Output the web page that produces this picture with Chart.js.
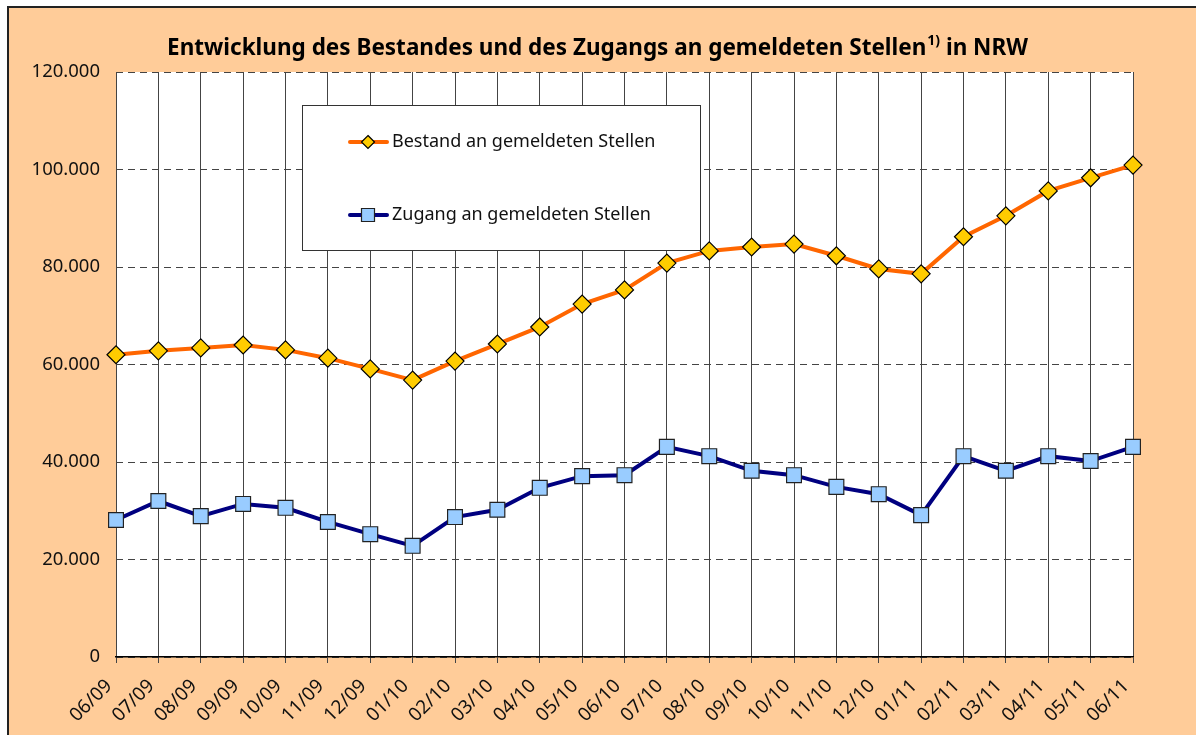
<!DOCTYPE html>
<html>
<head>
<meta charset="utf-8">
<script src="https://cdn.jsdelivr.net/npm/chart.js@4.4.1/dist/chart.umd.min.js"></script>
<style>
  html, body { margin: 0; padding: 0; background: #fff; }
  #wrap { position: absolute; left: 0; top: 0; width: 1196px; height: 735px; }
</style>
</head>
<body>
<div id="wrap"><canvas id="cChart" width="1196" height="735"></canvas></div>
<script>
// monate (Berichtsmonat)
var monate = ['06/09', '07/09', '08/09', '09/09', '10/09', '11/09', '12/09', '01/10', '02/10',
  '03/10', '04/10', '05/10', '06/10', '07/10', '08/10', '09/10', '10/10', '11/10', '12/10',
  '01/11', '02/11', '03/11', '04/11', '05/11', '06/11'];

var bestand = [62000, 62800, 63400, 64000, 63000, 61300, 59100, 56800, 60700,
  64200, 67700, 72400, 75300, 80800, 83300, 84100, 84700, 82300, 79600,
  78600, 86200, 90500, 95600, 98300, 100900];

var zugang = [28100, 32000, 28900, 31400, 30600, 27700, 25200, 22800, 28700,
  30200, 34700, 37100, 37300, 43100, 41200, 38200, 37300, 34900, 33400,
  29100, 41200, 38200, 41200, 40200, 43100];

var yTicks = [0, 20000, 40000, 60000, 80000, 100000, 120000];

var titelText = 'Entwicklung des Bestandes und des Zugangs an gemeldeten Stellen';
var titelSup = '1)';
var titelRest = ' in NRW';
var legendeLabels = ['Bestand an gemeldeten Stellen', 'Zugang an gemeldeten Stellen'];

var FONT = '"Noto Sans", "Open Sans", sans-serif';

function fmt(v) {
  return String(v).replace(/\B(?=(\d{3})+(?!\d))/g, '.');
}

var hintergrund = {
  id: 'hintergrund',
  beforeDraw: function(chart) {
    var ctx = chart.ctx;
    ctx.save();
    ctx.fillStyle = '#fff';
    ctx.fillRect(0, 0, chart.width, chart.height);
    ctx.fillStyle = '#FFCC99';
    ctx.fillRect(8, 7, 1200, 740);
    ctx.strokeStyle = '#222';
    ctx.lineWidth = 2;
    ctx.strokeRect(8, 7, 1200, 740);
    // plot area white
    var a = chart.chartArea;
    ctx.fillStyle = '#fff';
    ctx.fillRect(a.left, a.top, a.right - a.left, a.bottom - a.top);

    // title with superscript
    ctx.fillStyle = '#000';
    ctx.textBaseline = 'alphabetic';
    ctx.font = 'bold 22.5px ' + FONT;
    var w1 = ctx.measureText(titelText).width;
    var w3 = ctx.measureText(titelRest).width;
    ctx.font = 'bold 14px ' + FONT;
    var w2 = ctx.measureText(titelSup).width;
    var x = 597 - (w1 + w2 + w3) / 2;
    ctx.font = 'bold 22.5px ' + FONT;
    ctx.fillText(titelText, x, 55);
    ctx.font = 'bold 14px ' + FONT;
    ctx.fillText(titelSup, x + w1 + 1, 45);
    ctx.font = 'bold 22.5px ' + FONT;
    ctx.fillText(titelRest, x + w1 + w2 + 1, 55);
    ctx.restore();
  }
};

var legende = {
  id: 'legende',
  afterDraw: function(chart) {
    var ctx = chart.ctx;
    ctx.save();
    ctx.fillStyle = '#fff';
    ctx.fillRect(302, 105, 398, 145);
    ctx.strokeStyle = '#333';
    ctx.lineWidth = 1;
    ctx.strokeRect(302.5, 105.5, 398, 145);
    var ys = [142, 215];
    chart.data.datasets.forEach(function(ds, i) {
      var y = ys[i];
      ctx.strokeStyle = ds.borderColor;
      ctx.lineWidth = 4;
      ctx.lineCap = 'round';
      ctx.beginPath();
      ctx.moveTo(350, y);
      ctx.lineTo(387, y);
      ctx.stroke();
      ctx.lineCap = 'butt';
      ctx.fillStyle = ds.pointBackgroundColor;
      ctx.strokeStyle = ds.pointBorderColor;
      ctx.lineWidth = 1.2;
      ctx.beginPath();
      if (i === 0) {
        ctx.moveTo(368, y - 6.5); ctx.lineTo(374.5, y); ctx.lineTo(368, y + 6.5); ctx.lineTo(361.5, y);
        ctx.closePath();
      } else {
        ctx.rect(361.5, y - 6.5, 13, 13);
      }
      ctx.fill();
      ctx.stroke();
      ctx.fillStyle = '#111';
      ctx.font = '18px ' + FONT;
      ctx.textBaseline = 'middle';
      ctx.fillText(legendeLabels[i], 392, y);
    });
    ctx.restore();
  }
};

new Chart(document.getElementById('cChart'), {
  type: 'line',
  data: {
    labels: monate,
    datasets: [{
      label: legendeLabels[0],
      data: bestand,
      borderColor: '#FF6600',
      borderWidth: 4,
      pointStyle: 'rectRot',
      pointRadius: 9,
      pointHoverRadius: 9,
      pointBackgroundColor: '#FFCC00',
      pointBorderColor: '#000',
      pointBorderWidth: 1.2,
      tension: 0,
      fill: false
    }, {
      label: legendeLabels[1],
      data: zugang,
      borderColor: '#000080',
      borderWidth: 4,
      pointStyle: 'rect',
      pointRadius: 10.5,
      pointHoverRadius: 10.5,
      pointBackgroundColor: '#99CCFF',
      pointBorderColor: '#222',
      pointBorderWidth: 1.2,
      tension: 0,
      fill: false
    }]
  },
  options: {
    responsive: false,
    animation: false,
    events: [],
    layout: { padding: { top: 72, right: 63, bottom: 0, left: 0 } },
    plugins: {
      legend: { display: false },
      title: { display: false },
      tooltip: { enabled: false }
    },
    scales: {
      x: {
        type: 'category',
        offset: false,
        afterFit: function(s) { s.height = 78; },
        grid: { color: '#444', lineWidth: 1, tickLength: 6, drawOnChartArea: true },
        border: { display: true, color: '#000', width: 1.5 },
        ticks: {
          autoSkip: false,
          maxRotation: 45,
          minRotation: 45,
          padding: 12,
          labelOffset: -7,
          color: '#111',
          font: { family: FONT, size: 19 }
        }
      },
      y: {
        min: 0,
        max: 120000,
        afterFit: function(s) { s.width = 116; },
        afterBuildTicks: function(s) { s.ticks = yTicks.map(function(v) { return { value: v }; }); },
        grid: { color: '#444', lineWidth: 1, drawTicks: false },
        border: { display: false, dash: [7, 5] },
        ticks: {
          padding: 16,
          color: '#111',
          font: { family: FONT, size: 18.5 },
          callback: function(v) { return fmt(v); }
        }
      }
    }
  },
  plugins: [hintergrund, legende]
});
</script>
</body>
</html>
